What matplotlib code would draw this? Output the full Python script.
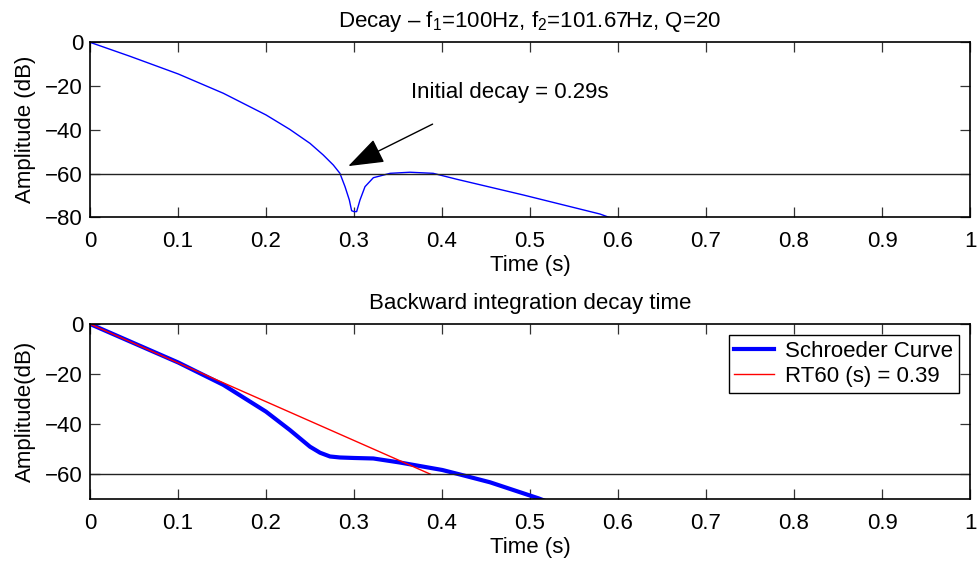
import matplotlib
matplotlib.use("Agg")
import matplotlib.pyplot as plt

plt.rcParams['font.family'] = ['Liberation Sans', 'DejaVu Sans']
plt.rcParams['mathtext.fontset'] = 'custom'
plt.rcParams['mathtext.rm'] = 'Liberation Sans'
plt.rcParams['mathtext.it'] = 'Liberation Sans'
FS = 16
plt.rcParams['font.size'] = FS

# Top panel: decay curve (time s, level dB)
decay_t = [0.0, 0.0455, 0.1004, 0.1515, 0.200, 0.227, 0.250, 0.265, 0.2765,
           0.284, 0.2898, 0.2947, 0.2973, 0.300, 0.303, 0.3068, 0.3125, 0.322, 0.341,
           0.3636, 0.390, 0.4167, 0.4924, 0.5795, 0.60]
decay_db = [0.0, -6.4, -14.5, -23.3, -33.2, -39.8, -46.2, -51.5, -56.1,
            -59.9, -66.0, -72.1, -77.0, -77.4, -77.4, -72.1, -66.0, -61.9, -59.9,
            -59.4, -59.9, -62.6, -69.8, -78.5, -81.5]

# Bottom panel: Schroeder backward integration curve
sch_t = [0.0, 0.1004, 0.1515, 0.200, 0.227, 0.250, 0.2614, 0.2727, 0.284, 0.300,
         0.322, 0.352, 0.4004, 0.4205, 0.4545, 0.5095, 0.52]
sch_db = [0.0, -15.4, -24.3, -35.0, -42.3, -49.0, -51.4, -52.9, -53.3, -53.5,
          -53.7, -55.3, -58.3, -60.1, -63.2, -69.6, -71.0]

# RT60 fit line
rt60_t = [0.0, 0.387]
rt60_db = [0.0, -60.0]

ref_level = -60
xticks = [0, 0.1, 0.2, 0.3, 0.4, 0.5, 0.6, 0.7, 0.8, 0.9, 1]
xtick_labels = ['0', '0.1', '0.2', '0.3', '0.4', '0.5', '0.6', '0.7', '0.8', '0.9', '1']
top_yticks = [0, -20, -40, -60, -80]
bot_yticks = [0, -20, -40, -60]

fig = plt.figure(figsize=(9.77, 5.63), dpi=100)
ax1 = fig.add_axes([90/977, 1-217.3/563, 880/977, 175/563])
ax2 = fig.add_axes([90/977, 1-499.3/563, 880/977, 175.3/563])


def style(ax):
    for s in ax.spines.values():
        s.set_linewidth(1.2)
        s.set_color('black')
    ax.tick_params(direction='in', length=7, width=0.9, top=True, right=True,
                   labelsize=FS, color='#333333')
    ax.tick_params(axis='x', pad=10)
    ax.tick_params(axis='y', pad=5)
    ax.set_xticks(xticks)
    ax.set_xticklabels(xtick_labels)
    ax.set_xlim(0, 1)


ax1.plot(decay_t, decay_db, color='#0000ff', lw=1.0)
ax1.axhline(ref_level, color='#222222', lw=1.0)
ax1.set_ylim(-80, 0)
ax1.set_yticks(top_yticks)
style(ax1)
ax1.set_xlabel('Time (s)', fontsize=FS, labelpad=2)
ax1.set_ylabel('Amplitude (dB)', fontsize=FS, labelpad=7)
ax1.set_title(r'Decay – f$_1$=100Hz, f$_2$=101.67Hz, Q=20', fontsize=FS, pad=11)
ax1.annotate('', xy=(0.2935, -56.6), xytext=(0.3893, -37.4),
             arrowprops=dict(arrowstyle='-|>,head_length=1.4,head_width=0.5',
                             color='black', lw=1.0, shrinkA=0, shrinkB=0))
ax1.text(0.365, -23.0, 'Initial decay = 0.29s', fontsize=FS, ha='left', va='center')

ax2.plot(sch_t, sch_db, color='#0000ff', lw=3.0, label='Schroeder Curve')
ax2.plot(rt60_t, rt60_db, color='#ff0000', lw=1.0, label='RT60 (s) = 0.39')
ax2.axhline(ref_level, color='#222222', lw=1.0)
ax2.set_ylim(-70, 0)
ax2.set_yticks(bot_yticks)
style(ax2)
ax2.set_xlabel('Time (s)', fontsize=FS, labelpad=2)
ax2.set_ylabel('Amplitude(dB)', fontsize=FS, labelpad=7)
ax2.set_title('Backward integration decay time', fontsize=FS, pad=11)
leg = ax2.legend(loc='upper right', fontsize=FS, fancybox=False, framealpha=1,
                 edgecolor='black', borderaxespad=0.5, handlelength=1.8,
                 handletextpad=0.5, borderpad=0.25, labelspacing=0.2)
leg.get_frame().set_linewidth(1.0)

fig.savefig('out.png', dpi=100)
